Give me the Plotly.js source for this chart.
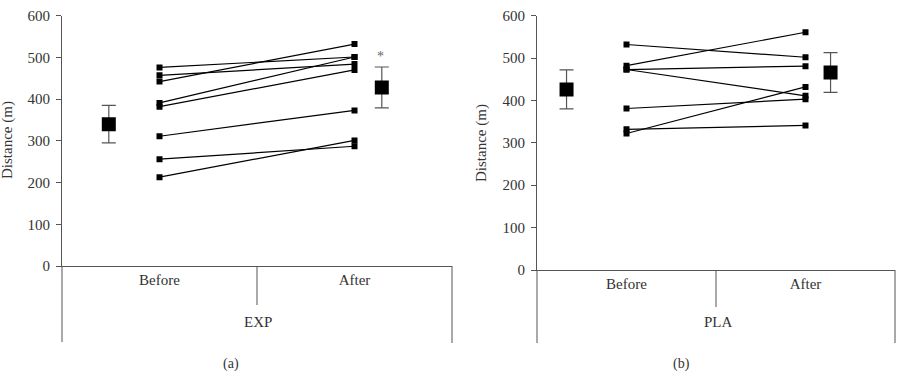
<!DOCTYPE html>
<html>
<head>
<meta charset="utf-8">
<script src="https://cdn.plot.ly/plotly-3.0.1.min.js"></script>
<style>html,body{margin:0;padding:0;background:#fff;}#chart{width:903px;height:376px;}</style>
</head>
<body>
<div id="chart"></div>
<script>
// ---- data ----
const categories = ["Before", "After"];
const groupNames = ["EXP", "PLA"];
const panelLabels = ["(a)", "(b)"];
const yTicks = [0, 100, 200, 300, 400, 500, 600];

const expBefore = [476, 457, 442, 391, 382, 311, 256, 213];
const expAfter  = [501, 484, 532, 501, 470, 373, 287, 301];
const expMean = [340, 428];
const expSD   = [45, 49];

const plaBefore = [532, 482, 473, 473, 381, 332, 322];
const plaAfter  = [502, 561, 481, 411, 403, 341, 432];
const plaMean = [426, 466];
const plaSD   = [46, 47];

// ---- layout helpers ----
const W = 903, H = 376;
const px = x => x / W;
const py = y => 1 - y / H;
const FONT = "Liberation Serif, Times New Roman, serif";
const TXT = "#333";
const AX = "#555";

const traces = [];
function addPanel(before, after, mean, sd, xa, ya, meanX) {
  for (let i = 0; i < before.length; i++) {
    traces.push({
      x: [0.5, 1.5], y: [before[i], after[i]],
      xaxis: xa, yaxis: ya, mode: "lines+markers", showlegend: false,
      line: {color: "#000", width: 1.2},
      marker: {symbol: "square", size: 6, color: "#000"},
      hoverinfo: "skip"
    });
  }
  traces.push({
    x: meanX, y: mean, xaxis: xa, yaxis: ya, mode: "markers", showlegend: false,
    marker: {symbol: "square", size: 14, color: "#000"},
    error_y: {type: "data", array: sd, visible: true, color: AX, thickness: 1.2, width: 7},
    hoverinfo: "skip"
  });
}
addPanel(expBefore, expAfter, expMean, expSD, "x", "y", [0.24, 1.64]);
addPanel(plaBefore, plaAfter, plaMean, plaSD, "x2", "y2", [0.165, 1.64]);

function yax(domain) {
  return {
    domain: domain, range: [0, 600], tickvals: yTicks, ticktext: yTicks.map(String),
    showline: true, linecolor: AX, linewidth: 1, ticks: "outside", ticklen: 5, tickcolor: AX,
    ticklabelstandoff: 3,
    showgrid: false, zeroline: false, fixedrange: true,
    tickfont: {family: FONT, size: 15, color: TXT}
  };
}
function xax(domain, anchor) {
  return {
    domain: domain, anchor: anchor, range: [0, 2], tickvals: [0.5, 1.5], ticktext: categories,
    showline: true, linecolor: AX, linewidth: 1, ticks: "", showgrid: false, zeroline: false,
    fixedrange: true, tickfont: {family: FONT, size: 15, color: TXT}
  };
}

function vline(xref, x, y0, y1) {
  return {type: "line", xref: xref, yref: "paper", x0: x, x1: x, y0: py(y0), y1: py(y1),
          line: {color: AX, width: 1}};
}
const shapes = [
  vline("paper", px(62), 266, 342),
  vline("x", 1, 266, 305),
  vline("paper", px(452), 266, 343),
  vline("paper", px(537), 270, 343),
  vline("x2", 1, 270, 307),
  vline("paper", px(895), 270, 343)
];

function ann(text, x, y, extra) {
  return Object.assign({text: text, xref: "paper", yref: "paper", x: px(x), y: py(y),
    xanchor: "center", yanchor: "middle", showarrow: false,
    font: {family: FONT, size: 15, color: TXT}}, extra || {});
}
const annotations = [
  ann("Distance (m)", 7, 140, {textangle: -90}),
  ann("Distance (m)", 482, 143, {textangle: -90}),
  ann(groupNames[0], 258, 322),
  ann(groupNames[1], 718, 322),
  ann(panelLabels[0], 231, 364, {font: {family: FONT, size: 14, color: TXT}}),
  ann(panelLabels[1], 681, 364, {font: {family: FONT, size: 14, color: TXT}}),
  ann("*", 380, 56, {font: {family: FONT, size: 14, color: "#666"}})
];

const layout = {
  width: W, height: H, margin: {l: 0, r: 0, t: 0, b: 0},
  paper_bgcolor: "#fff", plot_bgcolor: "rgba(0,0,0,0)", showlegend: false,
  xaxis: xax([px(62), px(452)], "y"),
  yaxis: yax([py(266), py(15.7)]),
  xaxis2: xax([px(537), px(895)], "y2"),
  yaxis2: Object.assign(yax([py(270), py(15.7)]), {anchor: "x2"}),
  shapes: shapes, annotations: annotations
};
layout.yaxis.anchor = "x";

Plotly.newPlot("chart", traces, layout, {displayModeBar: false, staticPlot: true});
</script>
</body>
</html>
